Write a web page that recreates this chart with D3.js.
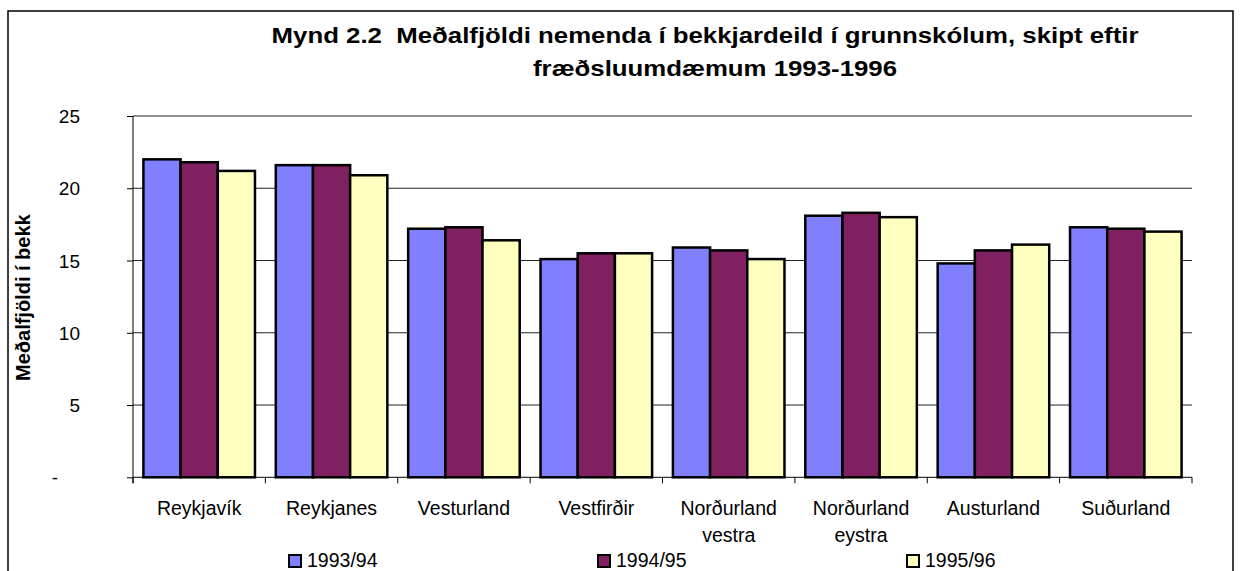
<!DOCTYPE html>
<html>
<head>
<meta charset="utf-8">
<script src="https://cdnjs.cloudflare.com/ajax/libs/d3/7.8.5/d3.min.js"></script>
<style>
  body { margin: 0; background: #fff; }
  text { font-family: Arial, "Liberation Sans", sans-serif; fill: #000; }
</style>
</head>
<body>
<div class="barChart"></div>
<script>
var categories = ["Reykjavík", "Reykjanes", "Vesturland", "Vestfirðir",
                  "Norðurland vestra", "Norðurland eystra", "Austurland", "Suðurland"];
var series = ["1993/94", "1994/95", "1995/96"];
var values9394 = [22.0, 21.6, 17.2, 15.1, 15.9, 18.1, 14.8, 17.3];
var values9495 = [21.8, 21.6, 17.3, 15.5, 15.7, 18.3, 15.7, 17.2];
var values9596 = [21.2, 20.9, 16.4, 15.5, 15.1, 18.0, 16.1, 17.0];
var yTicks = [0, 5, 10, 15, 20, 25];
var colors = ["#8080ff", "#802060", "#ffffc0"];

var width = 1241,
    height = 571,
    plot = { left: 133, right: 1192, top: 116, bottom: 477.3 };

var svg = d3.select(".barChart").append("svg")
    .attr("width", width)
    .attr("height", height);

// outer frame of the chart area
svg.append("rect")
    .attr("x", 8).attr("y", 11)
    .attr("width", 1225).attr("height", 600)
    .style("fill", "none")
    .style("stroke", "#000")
    .style("stroke-width", 1.5);

// title: the original font is drawn wide, so stretch it horizontally
var titleLines = [
  { text: "Mynd 2.2  Meðalfjöldi nemenda í bekkjardeild í grunnskólum, skipt eftir", x: 705, y: 43 },
  { text: "fræðsluumdæmum 1993-1996", x: 715, y: 76 }
];
svg.append("g").selectAll("text")
    .data(titleLines)
    .enter().append("text")
      .attr("transform", function(d) { return "translate(" + d.x + "," + d.y + ") scale(1.2,1)"; })
      .style("text-anchor", "middle")
      .style("font-weight", "bold")
      .style("font-size", "21.5px")
      .style("white-space", "pre")
      .text(function(d) { return d.text; });

var x0 = d3.scaleBand()
    .domain(categories)
    .range([plot.left, plot.right]);

var x1 = d3.scaleBand()
    .domain(series)
    .range([0, x0.bandwidth()])
    .paddingOuter(0.28);

var y = d3.scaleLinear()
    .domain([0, 25])
    .range([plot.bottom, plot.top]);

// gridlines
svg.append("g").selectAll("line")
    .data(yTicks.filter(function(t) { return t > 0; }))
    .enter().append("line")
      .attr("x1", plot.left).attr("x2", plot.right)
      .attr("y1", function(d) { return y(d); })
      .attr("y2", function(d) { return y(d); })
      .style("stroke", "#222")
      .style("stroke-width", 1);

// y axis
var yAxis = svg.append("g")
    .attr("transform", "translate(" + plot.left + ",0)")
    .call(d3.axisLeft(y).tickValues(yTicks).tickSize(6).tickPadding(47)
      .tickFormat(function(d) { return d === 0 ? "-" : d; }));
yAxis.select(".domain").remove();
yAxis.selectAll(".tick line").style("stroke", "#000");
yAxis.selectAll(".tick text")
    .style("font-family", "Arial, 'Liberation Sans', sans-serif")
    .style("font-size", "19px")
    .attr("dy", "0.35em");
yAxis.selectAll(".tick text").filter(function(d) { return d === 0; })
    .attr("x", -75);

svg.append("line")
    .attr("x1", plot.left).attr("x2", plot.left)
    .attr("y1", plot.top).attr("y2", plot.bottom + 6)
    .style("stroke", "#000");

svg.append("text")
    .attr("transform", "translate(30," + ((plot.top + plot.bottom) / 2 + 1) + ") rotate(-90)")
    .style("text-anchor", "middle")
    .style("font-weight", "bold")
    .style("font-size", "20px")
    .text("Meðalfjöldi í bekk");

// bars
var rows = categories.map(function(c, i) {
  return { category: c, values: [values9394[i], values9495[i], values9596[i]] };
});

var group = svg.append("g").selectAll(".group")
    .data(rows)
    .enter().append("g")
      .attr("class", "group")
      .attr("transform", function(d) { return "translate(" + x0(d.category) + ",0)"; });

group.selectAll("rect")
    .data(function(d) { return d.values.map(function(v, j) { return { s: series[j], v: v, j: j }; }); })
    .enter().append("rect")
      .attr("x", function(d) { return x1(d.s); })
      .attr("y", function(d) { return y(d.v); })
      .attr("width", x1.bandwidth())
      .attr("height", function(d) { return y(0) - y(d.v); })
      .style("fill", function(d) { return colors[d.j]; })
      .style("stroke", "#000")
      .style("stroke-width", 2.5);

// x axis line and category boundary ticks
svg.append("line")
    .attr("x1", plot.left).attr("x2", plot.right)
    .attr("y1", plot.bottom).attr("y2", plot.bottom)
    .style("stroke", "#000");

var bounds = categories.map(function(c) { return x0(c); }).concat([plot.right]);
svg.append("g").selectAll("line")
    .data(bounds)
    .enter().append("line")
      .attr("x1", function(d) { return d; }).attr("x2", function(d) { return d; })
      .attr("y1", plot.bottom).attr("y2", plot.bottom + 6)
      .style("stroke", "#000");

var xLabel = svg.append("g").selectAll("text")
    .data(categories)
    .enter().append("text")
      .attr("x", function(d) { return x0(d) + x0.bandwidth() / 2; })
      .attr("y", 515)
      .style("text-anchor", "middle")
      .style("font-size", "19.5px");

xLabel.selectAll("tspan")
    .data(function(d) { return d.split(" "); })
    .enter().append("tspan")
      .attr("x", function() { return d3.select(this.parentNode).attr("x"); })
      .attr("dy", function(d, i) { return i === 0 ? 0 : 27; })
      .text(function(d) { return d; });

// legend
var legend = svg.append("g").selectAll(".legend")
    .data(series)
    .enter().append("g")
      .attr("class", "legend")
      .attr("transform", function(d, i) { return "translate(" + (289 + i * 309) + ",555)"; });

legend.append("rect")
    .attr("width", 12).attr("height", 12)
    .style("fill", function(d, i) { return colors[i]; })
    .style("stroke", "#000")
    .style("stroke-width", 2);

legend.append("text")
    .attr("x", 18).attr("y", 12)
    .style("font-size", "19.5px")
    .text(function(d) { return d; });
</script>
</body>
</html>
